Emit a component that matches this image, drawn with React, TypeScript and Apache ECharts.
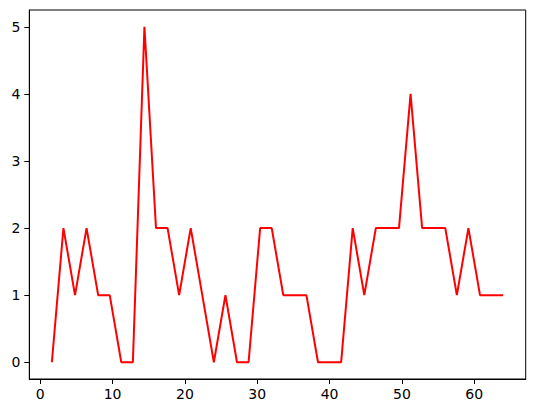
import React, { useEffect, useRef } from "react";
import * as echarts from "echarts";

const xValues: number[] = [
  1.6, 3.2, 4.8, 6.4, 8.0, 9.6, 11.2, 12.8, 14.4, 16.0,
  17.6, 19.2, 20.8, 22.4, 24.0, 25.6, 27.2, 28.8, 30.4, 32.0,
  33.6, 35.2, 36.8, 38.4, 40.0, 41.6, 43.2, 44.8, 46.4, 48.0,
  49.6, 51.2, 52.8, 54.4, 56.0, 57.6, 59.2, 60.8, 62.4, 64.0,
];
const yValues: number[] = [
  0, 2, 1, 2, 1, 1, 0, 0, 5, 2,
  2, 1, 2, 1, 0, 1, 0, 0, 2, 2,
  1, 1, 1, 0, 0, 0, 2, 1, 2, 2,
  2, 4, 2, 2, 2, 1, 2, 1, 1, 1,
];
const xTicks: number[] = [0, 10, 20, 30, 40, 50, 60];
const yTicks: number[] = [0, 1, 2, 3, 4, 5];

export default function App() {
  const ref = useRef<HTMLDivElement>(null);
  useEffect(() => {
    document.body.style.margin = "0";
    if (!ref.current) return;
    const chart = echarts.init(ref.current, undefined, { renderer: "svg" });
    const xMinD = Math.min(...xValues);
    const xMaxD = Math.max(...xValues);
    const xPad = (xMaxD - xMinD) * 0.05;
    const yMinD = Math.min(...yValues);
    const yMaxD = Math.max(...yValues);
    const yPad = (yMaxD - yMinD) * 0.05;
    const font = "DejaVu Sans";
    chart.setOption({
      animation: false,
      backgroundColor: "#fff",
      grid: {
        left: 29.3,
        right: 8.3,
        top: 10,
        bottom: 34,
        show: true,
        borderColor: "#000",
        borderWidth: 1,
        backgroundColor: "transparent",
      },
      xAxis: {
        type: "value",
        min: xMinD - xPad,
        max: xMaxD + xPad,
        splitLine: { show: false },
        axisLine: { show: true, onZero: false, lineStyle: { color: "#000", width: 1 } },
        axisTick: {
          show: true,
          length: 5,
          lineStyle: { color: "#000", width: 1 },
          customValues: xTicks,
        },
        axisLabel: {
          customValues: xTicks,
          color: "#000",
          fontFamily: font,
          fontSize: 14,
          margin: 8,
        },
      },
      yAxis: {
        type: "value",
        min: yMinD - yPad,
        max: yMaxD + yPad,
        splitLine: { show: false },
        axisLine: { show: true, onZero: false, lineStyle: { color: "#000", width: 1 } },
        axisTick: {
          show: true,
          length: 5,
          lineStyle: { color: "#000", width: 1 },
          customValues: yTicks,
        },
        axisLabel: {
          customValues: yTicks,
          color: "#000",
          fontFamily: font,
          fontSize: 14,
          margin: 9,
        },
      },
      series: [
        {
          type: "line",
          data: xValues.map((x, i) => [x, yValues[i]]),
          showSymbol: false,
          lineStyle: { color: "#ff0000", width: 2 },
          itemStyle: { color: "#ff0000" },
        },
      ],
    });
    return () => chart.dispose();
  }, []);
  return <div ref={ref} style={{ width: 534, height: 413 }} />;
}
